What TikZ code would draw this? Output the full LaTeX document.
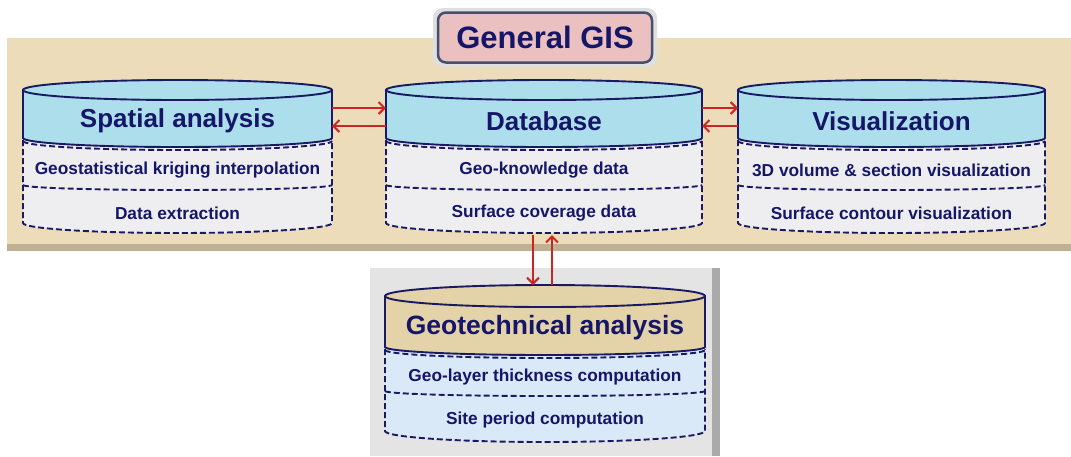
\documentclass[tikz,border=0pt]{standalone}
\usepackage{fontspec}
\setmainfont{Liberation Sans}
\usetikzlibrary{calc,arrows.meta}
\definecolor{navy}{RGB}{22,22,105}
\definecolor{cylline}{RGB}{26,26,100}
\definecolor{bandfill}{RGB}{236,220,186}
\definecolor{bandedge}{RGB}{205,188,152}
\definecolor{bluefill}{RGB}{172,222,236}
\definecolor{lowfill}{RGB}{238,238,241}
\definecolor{tanfill}{RGB}{228,210,168}
\definecolor{lowblue}{RGB}{218,233,248}
\definecolor{panelfill}{RGB}{228,228,228}
\definecolor{paneledge}{RGB}{170,170,170}
\definecolor{gisfill}{RGB}{234,192,192}
\definecolor{gisedge}{RGB}{70,80,110}
\definecolor{arrred}{RGB}{205,35,35}
\tikzset{
  cylout/.style={draw=cylline, line width=1.9pt},
  dashout/.style={draw=cylline, line width=1.9pt, dash pattern=on 6pt off 3pt},
  titletext/.style={text=navy, font=\bfseries\fontsize{26}{30}\selectfont, inner sep=0pt},
  itemtext/.style={text=navy, font=\bfseries\fontsize{17.3}{20}\selectfont, inner sep=0pt},
  hitbox/.style={inner sep=0pt, outer sep=0pt},
  arr/.style={draw=arrred, line width=2pt, -{Straight Barb[length=6pt,width=12pt]}}
}
\newcommand\mycyl[7]{% #1 name, #2 L, #3 R, #4 title, #5 item1, #6 item2, #7 top fill
  \pgfmathsetmacro\cA{(#3-#2)/2}
  \pgfmathsetmacro\cM{(#3+#2)/2}
  \pgfmathsetmacro\cW{#3-#2}
  \fill[lowfill] (#2,138) -- (#2,223) arc[start angle=180,end angle=360,x radius=\cA pt,y radius=10pt] -- (#3,138) -- cycle;
  \fill[#7] (#2,90) -- (#2,138) arc[start angle=180,end angle=360,x radius=\cA pt,y radius=9pt] -- (#3,90) arc[start angle=0,end angle=180,x radius=\cA pt,y radius=10pt] -- cycle;
  \draw[dashout] (#2,140) -- (#2,223) arc[start angle=180,end angle=360,x radius=\cA pt,y radius=10pt] -- (#3,140);
  \draw[dashout] (#2,141) arc[start angle=180,end angle=360,x radius=\cA pt,y radius=9pt];
  \draw[dashout] (#2,185) arc[start angle=180,end angle=360,x radius=\cA pt,y radius=5pt];
  \draw[cylout] (#2,90) -- (#2,138) arc[start angle=180,end angle=360,x radius=\cA pt,y radius=9pt] -- (#3,90);
  \draw[cylout] (\cM,90) ellipse[x radius=\cA pt,y radius=10pt];
  \node[titletext] (#1t) at (\cM,121) {#4};
  \node[itemtext] (#1a) at (\cM,170) {#5};
  \node[itemtext] (#1b) at (\cM,213) {#6};
  \node[hitbox, minimum width=\cW pt, minimum height=155pt] (#1) at (\cM,157.5) {};
}
\begin{document}
\begin{tikzpicture}[x=1pt,y=-1pt]
\useasboundingbox (0,0) rectangle (1071,456);
\fill[white] (0,0) rectangle (1071,456);
% band
\fill[bandedge!80!gray] (7,40) rectangle (1071,251);
\fill[bandfill] (7,38) rectangle (1071,244);
% General GIS box
\fill[gray!25, rounded corners=10pt] (433,8) rectangle (657,67);
\node[draw=gisedge, line width=2.5pt, fill=gisfill, rounded corners=8pt,
      minimum width=214pt, minimum height=50pt, text=navy,
      font=\bfseries\fontsize{31}{36}\selectfont] (gis) at (545,37.5) {General GIS};
% cylinders
\mycyl{sa}{23}{332}{Spatial analysis}{Geostatistical kriging interpolation}{Data extraction}{bluefill}
\mycyl{db}{386}{702}{Database}{Geo-knowledge data}{Surface coverage data}{bluefill}
\mycyl{vis}{738}{1045}{Visualization}{3D volume \& section visualization}{Surface contour visualization}{bluefill}
% panel
\fill[paneledge] (370,268) rectangle (720,456);
\fill[panelfill] (370,268) rectangle (712,456);
% geotechnical cylinder
\fill[lowblue] (385,347) -- (385,431) arc[start angle=180,end angle=360,x radius=160pt,y radius=11pt] -- (705,347) -- cycle;
\fill[tanfill] (385,296) -- (385,347) arc[start angle=180,end angle=360,x radius=160pt,y radius=8pt] -- (705,296) arc[start angle=0,end angle=180,x radius=160pt,y radius=11pt] -- cycle;
\draw[dashout] (385,349) -- (385,431) arc[start angle=180,end angle=360,x radius=160pt,y radius=11pt] -- (705,349);
\draw[dashout] (385,350) arc[start angle=180,end angle=360,x radius=160pt,y radius=8pt];
\draw[dashout] (385,391) arc[start angle=180,end angle=360,x radius=160pt,y radius=5pt];
\draw[cylout] (385,296) -- (385,347) arc[start angle=180,end angle=360,x radius=160pt,y radius=8pt] -- (705,296);
\draw[cylout] (545,296) ellipse[x radius=160pt,y radius=11pt];
\node[titletext, font=\bfseries\fontsize{26.5}{30}\selectfont] (gtt) at (545,328) {Geotechnical analysis};
\node[itemtext] (gta) at (545,377) {Geo-layer thickness computation};
\node[itemtext] (gtb) at (545,420) {Site period computation};
\node[hitbox, minimum width=320pt, minimum height=157pt] (gt) at (545,363.5) {};
% connectors
\coordinate (yA) at (0,108);
\coordinate (yB) at (0,126);
\coordinate (xL) at (533,0);
\coordinate (xR) at (552,0);
\draw[arr] (sa.east |- yA) -- (db.west |- yA);
\draw[arr] (db.west |- yB) -- (sa.east |- yB);
\draw[arr] (db.east |- yA) -- (vis.west |- yA);
\draw[arr] (vis.west |- yB) -- (db.east |- yB);
\draw[arr] (db.south -| xL) -- (gt.north -| xL);
\draw[arr] (gt.north -| xR) -- (db.south -| xR);
\end{tikzpicture}
\end{document}
